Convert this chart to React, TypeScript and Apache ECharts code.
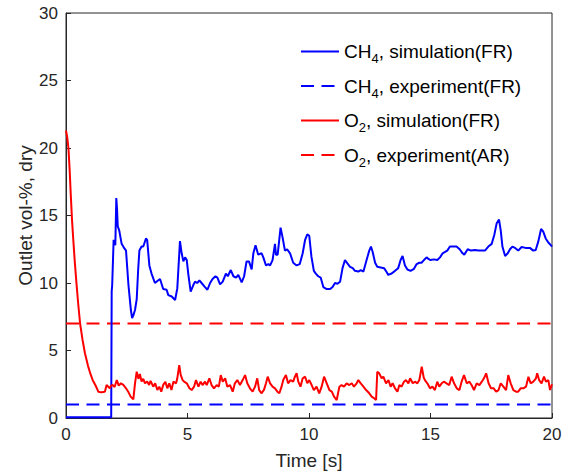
import React, { useEffect, useRef } from "react";
import * as echarts from "echarts";

const xTicks = [0, 5, 10, 15, 20];
const yTicks = [0, 5, 10, 15, 20, 25, 30];

const ch4Sim: [number, number][] = [
  [0, 0.05], [1.86, 0.05], [1.88, 9.4], [1.9, 9.8], [1.96, 13.2], [2.0, 13.0], [2.03, 12.8], [2.07, 16.3],
  [2.1, 15.5], [2.13, 14.2], [2.19, 13.9], [2.29, 12.9], [2.39, 12.6], [2.47, 12.4], [2.57, 9.85], [2.67, 8.0],
  [2.72, 7.4], [2.77, 7.6], [2.84, 8.0], [2.91, 8.8], [2.97, 11.0], [3.02, 12.4], [3.11, 12.7], [3.18, 12.7],
  [3.29, 13.3], [3.34, 13.2], [3.43, 11.3], [3.52, 10.7], [3.66, 10.0], [3.76, 10.15], [3.87, 10.3], [4.0, 9.55],
  [4.14, 9.5], [4.21, 9.1], [4.35, 9.0], [4.49, 8.74], [4.58, 9.6], [4.69, 13.1], [4.76, 12.2], [4.83, 11.6],
  [4.9, 11.9], [4.97, 11.7], [5.03, 10.7], [5.13, 9.36], [5.24, 9.85], [5.31, 10.1], [5.4, 10.0], [5.49, 10.2],
  [5.58, 10.0], [5.72, 9.7], [5.82, 9.5], [5.93, 10.0], [6.03, 10.3], [6.15, 10.5], [6.23, 10.4], [6.34, 9.9],
  [6.45, 10.1], [6.58, 10.7], [6.66, 10.5], [6.78, 10.96], [6.89, 10.5], [7.0, 10.4], [7.09, 10.6], [7.23, 10.05],
  [7.33, 10.5], [7.43, 11.6], [7.53, 11.6], [7.64, 11.0], [7.71, 12.2], [7.8, 12.8], [7.91, 12.1], [8.05, 12.2],
  [8.12, 11.9], [8.23, 11.3], [8.33, 11.4], [8.4, 11.3], [8.5, 11.7], [8.6, 12.9], [8.64, 12.1], [8.71, 12.1],
  [8.83, 14.1], [8.91, 13.4], [9.01, 12.4], [9.1, 12.5], [9.22, 12.2], [9.35, 11.5], [9.49, 11.3], [9.62, 11.4],
  [9.74, 12.2], [9.84, 13.2], [9.93, 13.6], [10.01, 13.5], [10.1, 11.95], [10.2, 10.9], [10.28, 10.7], [10.38, 10.5],
  [10.48, 10.4], [10.59, 9.7], [10.73, 9.55], [10.87, 9.55], [10.97, 9.7], [11.07, 10.0], [11.17, 9.95], [11.28, 10.1],
  [11.38, 11.1], [11.48, 11.7], [11.58, 11.45], [11.69, 11.2], [11.8, 11.1], [11.89, 10.9], [12.03, 10.85], [12.13, 10.95],
  [12.24, 10.85], [12.37, 11.7], [12.48, 12.4], [12.55, 12.7], [12.62, 12.3], [12.72, 11.5], [12.81, 11.2], [12.95, 11.15],
  [13.09, 11.1], [13.2, 10.8], [13.26, 10.6], [13.4, 10.7], [13.54, 10.9], [13.67, 11.1], [13.77, 11.7], [13.85, 12.0],
  [13.95, 11.3], [14.05, 11.0], [14.18, 10.9], [14.32, 11.05], [14.43, 11.4], [14.54, 11.5], [14.63, 11.5], [14.73, 11.7],
  [14.84, 11.9], [14.9, 11.8], [15.0, 11.7], [15.14, 11.75], [15.28, 11.7], [15.39, 11.9], [15.5, 12.2], [15.6, 12.3],
  [15.69, 12.4], [15.8, 12.7], [15.94, 12.7], [16.07, 12.7], [16.2, 12.5], [16.32, 12.2], [16.39, 12.1], [16.53, 12.5],
  [16.67, 12.4], [16.83, 12.45], [16.97, 12.4], [17.24, 12.4], [17.38, 12.7], [17.52, 12.9], [17.63, 13.6], [17.72, 14.4],
  [17.82, 14.7], [17.89, 13.9], [17.96, 12.7], [18.07, 12.0], [18.18, 12.2], [18.27, 12.5], [18.37, 12.7], [18.48, 12.6],
  [18.61, 12.4], [18.75, 12.67], [18.91, 12.6], [19.09, 12.6], [19.23, 12.4], [19.33, 12.45], [19.44, 13.1], [19.55, 14.0],
  [19.64, 13.8], [19.74, 13.3], [19.85, 13.0], [19.95, 12.8], [20.0, 12.7],
];

const o2Sim: [number, number][] = [
  [0, 21.3], [0.05, 20.8], [0.1, 20.0], [0.15, 18.4], [0.2, 16.4], [0.25, 14.6], [0.3, 13.2], [0.36, 11.6],
  [0.43, 10.0], [0.5, 8.5], [0.58, 7.0], [0.68, 5.8], [0.78, 4.8], [0.9, 3.9], [1.0, 3.3], [1.1, 2.8],
  [1.19, 2.5], [1.27, 2.2], [1.33, 1.95], [1.45, 1.9], [1.55, 1.92], [1.6, 1.95], [1.67, 2.44], [1.75, 2.3],
  [1.8, 2.2], [1.86, 2.4], [1.92, 2.44], [2.0, 2.3], [2.09, 2.81], [2.17, 2.4], [2.26, 2.57], [2.36, 2.45],
  [2.47, 2.2], [2.56, 1.95], [2.66, 1.58], [2.77, 1.38], [2.84, 2.57], [2.91, 3.43], [2.98, 2.9], [3.04, 3.26],
  [3.11, 2.7], [3.18, 2.9], [3.25, 2.57], [3.34, 2.7], [3.42, 2.45], [3.48, 2.75], [3.59, 2.32], [3.67, 2.57],
  [3.76, 2.07], [3.84, 2.32], [3.92, 1.95], [4.0, 2.45], [4.09, 2.69], [4.17, 2.2], [4.25, 2.57], [4.34, 2.07],
  [4.42, 2.69], [4.53, 2.57], [4.58, 2.94], [4.66, 3.92], [4.72, 3.2], [4.8, 2.81], [4.86, 2.69], [4.97, 2.57],
  [5.08, 2.2], [5.17, 2.07], [5.27, 2.32], [5.35, 2.81], [5.45, 2.32], [5.54, 2.69], [5.62, 2.44], [5.72, 2.69],
  [5.79, 2.44], [5.9, 2.94], [5.99, 2.44], [6.09, 2.2], [6.2, 2.44], [6.29, 2.32], [6.37, 3.18], [6.45, 2.69],
  [6.55, 2.94], [6.64, 2.32], [6.75, 2.44], [6.86, 1.95], [6.95, 2.57], [7.05, 2.81], [7.16, 2.44], [7.27, 2.81],
  [7.37, 3.18], [7.46, 2.57], [7.57, 2.2], [7.68, 1.95], [7.78, 2.32], [7.87, 2.94], [7.95, 2.07], [8.05, 1.83],
  [8.15, 2.1], [8.23, 2.57], [8.3, 3.06], [8.4, 2.57], [8.5, 2.32], [8.6, 2.2], [8.7, 1.95], [8.78, 1.83],
  [8.87, 2.32], [8.94, 2.81], [9.05, 3.18], [9.14, 2.57], [9.24, 2.81], [9.35, 2.69], [9.42, 3.06], [9.49, 3.31],
  [9.56, 2.69], [9.65, 2.32], [9.74, 2.94], [9.84, 3.06], [9.93, 2.57], [10.01, 2.81], [10.11, 2.44], [10.2, 2.07],
  [10.31, 2.32], [10.42, 1.83], [10.52, 2.32], [10.62, 3.06], [10.73, 2.57], [10.84, 2.07], [10.94, 1.95], [11.03, 1.58],
  [11.14, 1.33], [11.25, 2.32], [11.34, 2.44], [11.44, 2.32], [11.55, 2.57], [11.66, 2.44], [11.76, 2.57], [11.85, 2.32],
  [11.96, 2.57], [12.03, 2.81], [12.13, 2.57], [12.24, 2.32], [12.35, 2.07], [12.48, 1.83], [12.58, 1.58], [12.68, 1.46],
  [12.76, 1.33], [12.81, 3.43], [12.89, 3.31], [12.99, 2.94], [13.06, 3.06], [13.17, 2.57], [13.27, 2.81], [13.36, 2.32],
  [13.44, 2.57], [13.54, 2.2], [13.64, 1.95], [13.72, 2.44], [13.81, 2.32], [13.91, 2.69], [13.99, 2.81], [14.09, 2.57],
  [14.16, 2.94], [14.27, 2.57], [14.36, 2.69], [14.46, 2.57], [14.54, 2.81], [14.64, 3.8], [14.72, 3.0], [14.77, 2.81],
  [14.87, 2.57], [14.98, 2.2], [15.08, 2.32], [15.18, 2.07], [15.28, 2.69], [15.36, 2.32], [15.46, 2.57], [15.55, 2.69],
  [15.66, 2.57], [15.77, 2.44], [15.87, 3.06], [15.97, 2.57], [16.08, 2.2], [16.19, 2.07], [16.28, 2.69], [16.38, 3.18],
  [16.49, 2.57], [16.6, 2.69], [16.69, 2.44], [16.79, 2.07], [16.9, 2.57], [17.01, 2.44], [17.11, 2.69], [17.2, 2.94],
  [17.29, 3.31], [17.39, 2.57], [17.49, 2.2], [17.6, 2.2], [17.7, 1.95], [17.8, 2.07], [17.89, 2.57], [18.0, 2.32],
  [18.11, 2.07], [18.2, 3.18], [18.3, 2.57], [18.41, 2.07], [18.52, 1.95], [18.61, 1.95], [18.71, 2.2], [18.82, 2.2],
  [18.93, 2.32], [19.03, 3.06], [19.12, 2.57], [19.23, 2.69], [19.34, 2.94], [19.39, 3.31], [19.47, 2.81], [19.57, 2.57],
  [19.67, 3.06], [19.75, 2.69], [19.85, 2.81], [19.92, 2.07], [20.0, 2.5],
];

const ch4Exp: [number, number][] = [[0, 1.0], [20, 1.0]];
const o2Exp: [number, number][] = [[0, 7.0], [20, 7.0]];

const seriesNames = [
  "CH4, simulation(FR)",
  "CH4, experiment(FR)",
  "O2, simulation(FR)",
  "O2, experiment(AR)",
];

const legendRich: Record<string, string> = {
  "CH4, simulation(FR)": "CH{sub|4}, simulation(FR)",
  "CH4, experiment(FR)": "CH{sub|4}, experiment(FR)",
  "O2, simulation(FR)": "O{sub|2}, simulation(FR)",
  "O2, experiment(AR)": "O{sub|2}, experiment(AR)",
};

const FONT = "'Liberation Sans', Arial, Helvetica, sans-serif";
const AXIS_COLOR = "#262626";
const DASH = [13, 7.5];

export default function App() {
  const ref = useRef<HTMLDivElement>(null);
  useEffect(() => {
    if (!ref.current) return;
    const chart = echarts.init(ref.current, undefined, { renderer: "svg" });
    chart.setOption({
      animation: false,
      backgroundColor: "#ffffff",
      textStyle: { fontFamily: FONT },
      grid: {
        left: 66,
        right: 19,
        top: 13,
        bottom: 58,
        show: true,
        borderColor: AXIS_COLOR,
        borderWidth: 1,
        backgroundColor: "transparent",
      },
      legend: {
        orient: "vertical",
        left: 295,
        top: 33,
        itemWidth: 38,
        itemHeight: 14,
        itemGap: 7.5,
        data: seriesNames,
        itemStyle: { opacity: 0 },
        formatter: (name: string) => legendRich[name] ?? name,
        textStyle: {
          fontFamily: FONT,
          fontSize: 19,
          color: "#000",
          lineHeight: 24,
          rich: {
            sub: { fontFamily: FONT, fontSize: 13, padding: [14, 0, 0, 0], lineHeight: 24 },
          },
        },
      },
      xAxis: {
        type: "value",
        min: xTicks[0],
        max: xTicks[xTicks.length - 1],
        interval: 5,
        name: "Time [s]",
        nameLocation: "middle",
        nameGap: 33,
        nameMoveOverlap: false,
        nameTextStyle: { fontSize: 19, color: AXIS_COLOR, fontFamily: FONT },
        axisLine: { show: true, onZero: false, lineStyle: { color: AXIS_COLOR, width: 1 } },
        axisTick: { show: true, inside: true, length: 5, lineStyle: { color: AXIS_COLOR } },
        axisLabel: { fontSize: 17, color: AXIS_COLOR, margin: 8, fontFamily: FONT },
        splitLine: { show: false },
      },
      yAxis: {
        type: "value",
        min: yTicks[0],
        max: yTicks[yTicks.length - 1],
        interval: 5,
        name: "Outlet vol-%, dry",
        nameLocation: "middle",
        nameGap: 31,
        nameMoveOverlap: false,
        nameTextStyle: { fontSize: 19, color: AXIS_COLOR, fontFamily: FONT },
        axisLine: { show: true, onZero: false, lineStyle: { color: AXIS_COLOR, width: 1 } },
        axisTick: { show: true, inside: true, length: 5, lineStyle: { color: AXIS_COLOR } },
        axisLabel: { fontSize: 17, color: AXIS_COLOR, margin: 8, fontFamily: FONT },
        splitLine: { show: false },
      },
      series: [
        {
          name: seriesNames[0],
          type: "line",
          data: ch4Sim,
          symbol: "none",
          lineStyle: { color: "#0000ff", width: 2 },
          itemStyle: { color: "#0000ff" },
          z: 3,
        },
        {
          name: seriesNames[1],
          type: "line",
          data: ch4Exp,
          symbol: "none",
          lineStyle: { color: "#0000ff", width: 2, type: DASH },
          itemStyle: { color: "#0000ff" },
          z: 2,
        },
        {
          name: seriesNames[2],
          type: "line",
          data: o2Sim,
          symbol: "none",
          lineStyle: { color: "#ff0000", width: 2 },
          itemStyle: { color: "#ff0000" },
          z: 3,
        },
        {
          name: seriesNames[3],
          type: "line",
          data: o2Exp,
          symbol: "none",
          lineStyle: { color: "#ff0000", width: 2, type: DASH },
          itemStyle: { color: "#ff0000" },
          z: 2,
        },
      ],
    });
    return () => chart.dispose();
  }, []);
  return (
    <div
      ref={ref}
      style={{ position: "absolute", left: 0, top: 0, width: 571, height: 476 }}
    />
  );
}
